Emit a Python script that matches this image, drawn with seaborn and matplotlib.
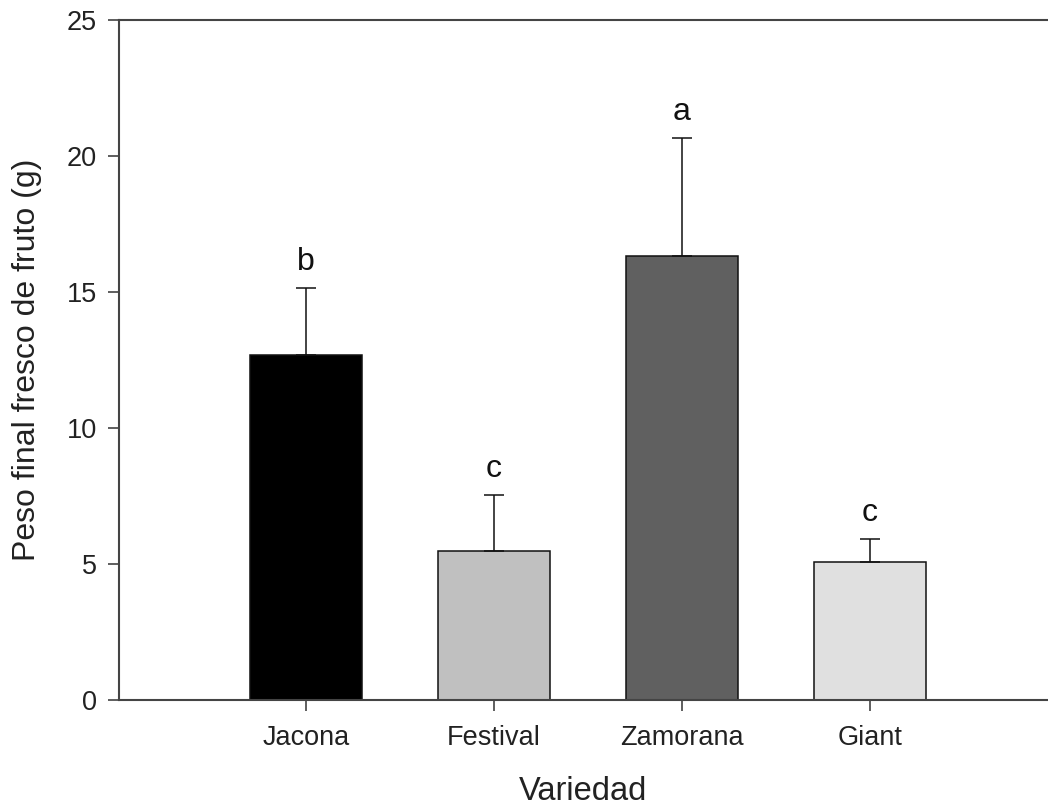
import matplotlib
matplotlib.use("Agg")
import matplotlib.pyplot as plt
import seaborn as sns
import pandas as pd

# Data
variedades = ["Jacona", "Festival", "Zamorana", "Giant"]
peso_medio = [12.68, 5.48, 16.32, 5.07]
error_sup = [2.47, 2.07, 4.34, 0.85]
letras = ["b", "c", "a", "c"]
colores = ["#000000", "#c0c0c0", "#606060", "#e0e0e0"]
y_ticks = [0, 5, 10, 15, 20, 25]

sns.set_style("ticks")
plt.rcParams["font.family"] = ["Liberation Sans", "DejaVu Sans"]

df = pd.DataFrame({"Variedad": variedades, "Peso": peso_medio})

fig = plt.figure(figsize=(10.48, 8.08), dpi=100)
ax = fig.add_axes([119 / 1048, 1 - 700 / 808, 1 - 119 / 1048, (700 - 20) / 808])

sns.barplot(data=df, x="Variedad", y="Peso", hue="Variedad", order=variedades,
            hue_order=variedades, palette=colores, width=0.6, dodge=False,
            edgecolor="#111111", linewidth=1.1, legend=False, errorbar=None, ax=ax)

xs = list(range(len(variedades)))
ax.errorbar(xs, peso_medio, yerr=[[0] * len(error_sup), error_sup], fmt="none",
            ecolor="#111111", elinewidth=1.1, capsize=7.5, capthick=1.1, zorder=1)

for x, m, e, l in zip(xs, peso_medio, error_sup, letras):
    ax.annotate(l, (x, m + e), xytext=(0, 8), textcoords="offset points",
                ha="center", va="bottom", fontsize=23, color="#111111")

ax.set_xlim(-0.995, 3.947)
ax.set_ylim(0, 25)
ax.set_yticks(y_ticks)
ax.set_xlabel("Variedad", fontsize=23.5, labelpad=18, color="#222222")
ax.set_ylabel("Peso final fresco de fruto (g)", fontsize=23, labelpad=18, color="#222222")
ax.tick_params(axis="both", direction="out", length=8, width=1.1, color="#333333",
               labelsize=19.5, labelcolor="#222222")
ax.tick_params(axis="y", pad=8)
ax.tick_params(axis="x", pad=10)

for side in ["left", "top", "bottom"]:
    ax.spines[side].set_color("#444444")
    ax.spines[side].set_linewidth(1.5)
ax.spines["right"].set_visible(False)

fig.savefig("out.png", dpi=100)
